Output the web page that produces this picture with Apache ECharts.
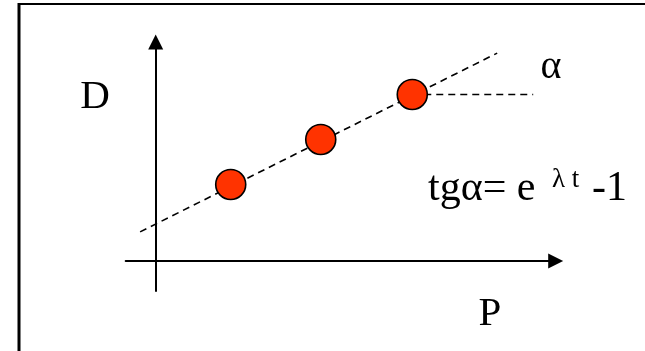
<!DOCTYPE html>
<html>
<head>
<meta charset="utf-8">
<style>
  html, body { margin: 0; padding: 0; background: #fff; }
  #chart { width: 645px; height: 351px; }
</style>
<script src="https://cdn.jsdelivr.net/npm/echarts@6/dist/echarts.min.js"></script>
</head>
<body>
<div id="chart"></div>
<script>
// Observed points (P, D)
const pValues = [2.5, 5.5, 8.55];
const dValues = [2.55, 4.05, 5.55];

// Ends of the fitted straight line through the points
const fitP = [-0.52, 11.38];
const fitD = [0.97, 6.93];

// Horizontal reference from the last point, marking the angle alpha
const refP = [8.55, 12.58];
const refD = [5.55, 5.55];

// Axis extents
const pRange = [-1, 13.33];
const dRange = [-1, 7.3];

const serif = '"Liberation Serif", "Times New Roman", serif';

const zip = (a, b) => a.map((v, i) => [v, b[i]]);

const chart = echarts.init(document.getElementById('chart'), null, { renderer: 'canvas' });

const axisCommon = {
  type: 'value',
  axisLine: {
    show: true,
    onZero: true,
    symbol: ['none', 'triangle'],
    symbolSize: [15, 15],
    lineStyle: { color: '#000', width: 2 }
  },
  axisTick: { show: false },
  axisLabel: { show: false },
  splitLine: { show: false }
};

chart.setOption({
  animation: false,
  backgroundColor: '#fff',
  grid: { left: 125.7, top: 42, width: 430, height: 249 },
  xAxis: Object.assign({}, axisCommon, { min: pRange[0], max: pRange[1] }),
  yAxis: Object.assign({}, axisCommon, { min: dRange[0], max: dRange[1] }),
  series: [
    {
      type: 'line',
      data: zip(fitP, fitD),
      symbol: 'none',
      lineStyle: { color: '#000', width: 1.6, type: [7, 5] },
      z: 2
    },
    {
      type: 'line',
      data: zip(refP, refD),
      symbol: 'none',
      lineStyle: { color: '#000', width: 1.6, type: [7, 5] },
      z: 2
    },
    {
      type: 'scatter',
      data: zip(pValues, dValues),
      symbol: 'circle',
      symbolSize: 30,
      itemStyle: { color: '#ff3300', borderColor: '#000', borderWidth: 1.6, opacity: 1 },
      z: 5
    }
  ],
  graphic: [
    // frame edges
    { type: 'line', shape: { x1: 19, y1: 4, x2: 645, y2: 4 }, style: { stroke: '#000', lineWidth: 2 } },
    { type: 'line', shape: { x1: 19, y1: 3, x2: 19, y2: 351 }, style: { stroke: '#000', lineWidth: 3 } },
    // axis names
    { type: 'text', style: { x: 95, y: 97, text: 'D', font: '41px ' + serif, fill: '#000', textAlign: 'center', textVerticalAlign: 'middle' } },
    { type: 'text', style: { x: 490, y: 314, text: 'P', font: '41px ' + serif, fill: '#000', textAlign: 'center', textVerticalAlign: 'middle' } },
    { type: 'text', style: { x: 551, y: 67, text: 'α', font: '40px ' + serif, fill: '#000', textAlign: 'center', textVerticalAlign: 'middle' } },
    // tg(alpha) relation
    { type: 'text', style: { x: 428, y: 189, text: 'tgα= e', font: '42px ' + serif, fill: '#000', textAlign: 'left', textVerticalAlign: 'middle' } },
    { type: 'text', style: { x: 552, y: 180, text: 'λ t', font: '27px ' + serif, fill: '#000', textAlign: 'left', textVerticalAlign: 'middle' } },
    { type: 'text', style: { x: 627, y: 189, text: '-1', font: '42px ' + serif, fill: '#000', textAlign: 'right', textVerticalAlign: 'middle' } }
  ]
});
</script>
</body>
</html>
